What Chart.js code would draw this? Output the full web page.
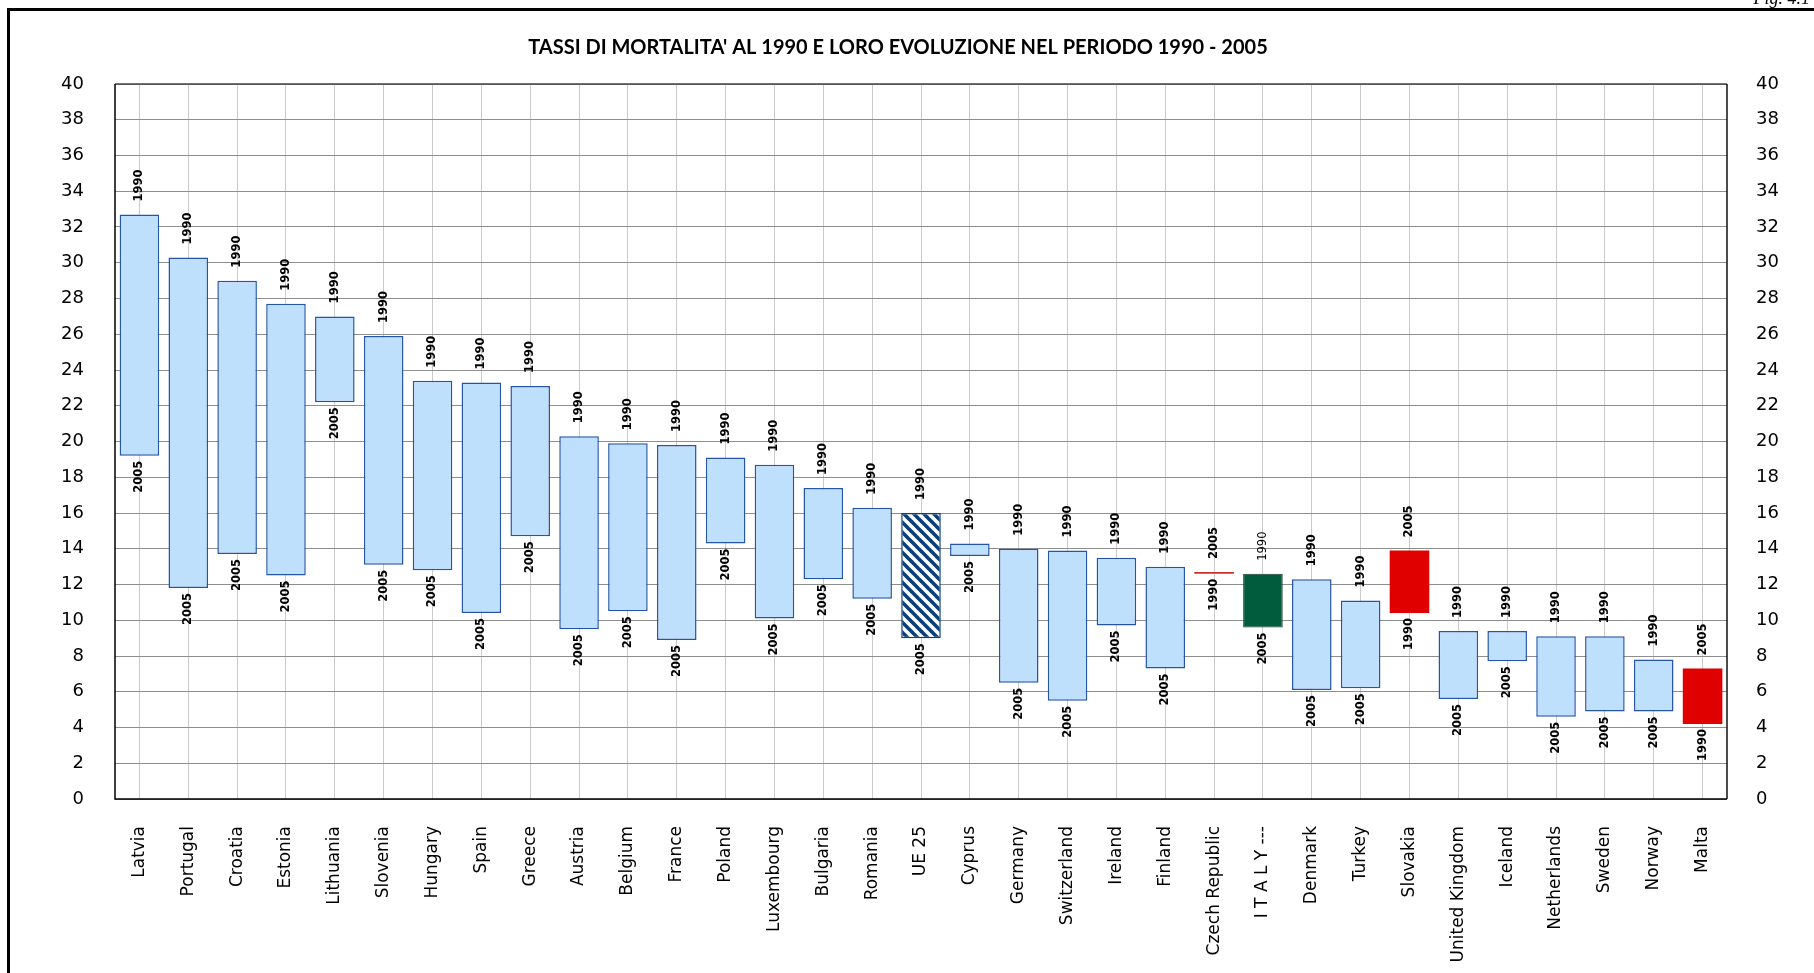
<!DOCTYPE html>
<html lang="it">
<head>
<meta charset="UTF-8">
<title>Tassi di mortalita' 1990 - 2005</title>
<script src="https://cdn.jsdelivr.net/npm/chart.js"></script>
<style>
    body { margin: 0; background: #fff; overflow: hidden; }
    #wrap { position: relative; width: 1814px; height: 973px; }
    #frame { position: absolute; left: 7px; top: 8px; width: 1900px; height: 1100px; border: 3px solid #000; pointer-events: none; }
    #fig { position: absolute; right: 4px; top: -12px; font: italic 18px "Liberation Serif", serif; color: #000; }
</style>
</head>
<body>
<div id="wrap">
    <canvas id="chart" width="1814" height="973"></canvas>
    <div id="frame"></div>
    <div id="fig">Fig. 4.1</div>
</div>
<script>
// dati
const categories = ['Latvia', 'Portugal', 'Croatia', 'Estonia', 'Lithuania', 'Slovenia', 'Hungary', 'Spain', 'Greece', 'Austria',
    'Belgium', 'France', 'Poland', 'Luxembourg', 'Bulgaria', 'Romania', 'UE 25', 'Cyprus', 'Germany', 'Switzerland',
    'Ireland', 'Finland', 'Czech Republic', 'I T A L Y ---', 'Denmark', 'Turkey', 'Slovakia', 'United Kingdom', 'Iceland',
    'Netherlands', 'Sweden', 'Norway', 'Malta'];
const rate1990 = [32.7, 30.3, 29.0, 27.7, 27.0, 25.9, 23.4, 23.3, 23.1, 20.3,
    19.9, 19.8, 19.1, 18.7, 17.4, 16.3, 16.0, 14.3, 14.0, 13.9,
    13.5, 13.0, 12.6, 12.6, 12.3, 11.1, 10.4, 9.4, 9.4,
    9.1, 9.1, 7.8, 4.2];
const rate2005 = [19.2, 11.8, 13.7, 12.5, 22.2, 13.1, 12.8, 10.4, 14.7, 9.5,
    10.5, 8.9, 14.3, 10.1, 12.3, 11.2, 9.0, 13.6, 6.5, 5.5,
    9.7, 7.3, 12.7, 9.6, 6.1, 6.2, 13.9, 5.6, 7.7,
    4.6, 4.9, 4.9, 7.3];
const yTicks = [0, 2, 4, 6, 8, 10, 12, 14, 16, 18, 20, 22, 24, 26, 28, 30, 32, 34, 36, 38, 40];
const titleText = "TASSI DI MORTALITA' AL 1990 E LORO EVOLUZIONE NEL PERIODO 1990 - 2005";

// tratteggio per UE 25
function hatch() {
    const c = document.createElement('canvas');
    c.width = 10; c.height = 10;
    const g = c.getContext('2d');
    g.fillStyle = '#fff';
    g.fillRect(0, 0, 10, 10);
    g.strokeStyle = '#0b3f7a';
    g.lineWidth = 3.6;
    for (let k = -1; k <= 1; k++) {
        g.beginPath();
        g.moveTo(k * 10 - 2, -2);
        g.lineTo(k * 10 + 12, 12);
        g.stroke();
    }
    return g.createPattern(c, 'repeat');
}

const ctx = document.getElementById('chart').getContext('2d');
const pattern = hatch();

const fills = [], borders = [], widths = [];
categories.forEach(function(name, i) {
    if (name === 'UE 25') {
        fills.push(pattern); borders.push('#0b3f7a'); widths.push(1.5);
    } else if (name.indexOf('I T A L Y') === 0) {
        fills.push('#005c3c'); borders.push('#1c3a2c'); widths.push(1);
    } else if (rate2005[i] > rate1990[i]) {
        fills.push(name === 'Czech Republic' ? '#c8322a' : '#e00000'); borders.push('rgba(0,0,0,0)'); widths.push(0);
    } else {
        fills.push('#bfe0fd'); borders.push('#2655a6'); widths.push(1.5);
    }
});

const yearLabels = {
    id: 'yearLabels',
    afterDatasetsDraw(chart) {
        const c = chart.ctx;
        const y = chart.scales.y;
        const meta = chart.getDatasetMeta(0);
        c.save();
        c.fillStyle = '#000';
        c.textBaseline = 'middle';
        meta.data.forEach(function(bar, i) {
            const up = rate2005[i] > rate1990[i];
            const hi = Math.max(rate1990[i], rate2005[i]);
            const lo = Math.min(rate1990[i], rate2005[i]);
            const topTxt = up ? '2005' : '1990';
            const botTxt = up ? '1990' : '2005';
            const italy = categories[i].indexOf('I T A L Y') === 0;
            // sopra
            c.save();
            c.translate(bar.x, y.getPixelForValue(hi) - 13);
            c.rotate(-Math.PI / 2);
            c.font = (italy && topTxt === '1990' ? '' : 'bold ') + '11.5px "DejaVu Sans"';
            c.textAlign = 'left';
            c.fillText(topTxt, 0, 0);
            c.restore();
            // sotto
            c.save();
            c.translate(bar.x, y.getPixelForValue(lo) + 5);
            c.rotate(-Math.PI / 2);
            c.font = 'bold 11.5px "DejaVu Sans"';
            c.textAlign = 'right';
            c.fillText(botTxt, 0, 0);
            c.restore();
        });
        c.restore();
    },
    afterDraw(chart) {
        const c = chart.ctx;
        const a = chart.chartArea;
        c.save();
        c.lineWidth = 1.5;
        c.strokeStyle = '#444';
        c.beginPath(); c.moveTo(a.left, a.top); c.lineTo(a.right, a.top); c.stroke();
        c.strokeStyle = '#111';
        c.beginPath(); c.moveTo(a.right, a.top); c.lineTo(a.right, a.bottom); c.stroke();
        c.strokeStyle = '#000';
        c.beginPath(); c.moveTo(a.left, a.top); c.lineTo(a.left, a.bottom); c.lineTo(a.right, a.bottom); c.stroke();
        // titolo
        c.fillStyle = '#000';
        c.font = 'bold 20px Lato';
        c.textAlign = 'center';
        c.textBaseline = 'middle';
        c.fillText(titleText, 898, 48);
        c.restore();
    }
};

const tickFont = { family: '"DejaVu Sans"', size: 18 };

new Chart(ctx, {
    type: 'bar',
    data: {
        labels: categories,
        datasets: [{
            label: 'Tassi di mortalita',
            data: categories.map(function(_, i) { return [rate2005[i], rate1990[i]]; }),
            backgroundColor: fills,
            borderColor: borders,
            borderWidth: widths,
            borderSkipped: false,
            barPercentage: 0.81,
            categoryPercentage: 1
        }]
    },
    options: {
        responsive: false,
        animation: false,
        devicePixelRatio: 1,
        layout: { padding: { top: 84, left: 0, right: 0, bottom: 0 } },
        plugins: {
            legend: { display: false },
            title: { display: false },
            tooltip: { enabled: false }
        },
        scales: {
            x: {
                offset: true,
                grid: { offset: false, color: '#cbcbcb', lineWidth: 1, drawTicks: false },
                border: { display: false },
                ticks: {
                    autoSkip: false, maxRotation: 90, minRotation: 90, padding: 27,
                    color: '#000', font: { family: '"DejaVu Sans"', size: 17 }
                },
                afterFit(scale) { scale.height = 174; }
            },
            y: {
                position: 'left',
                min: 0, max: 40,
                afterBuildTicks(scale) { scale.ticks = yTicks.map(function(v) { return { value: v }; }); },
                grid: { color: '#8e8e8e', lineWidth: 1, drawTicks: false },
                border: { display: false },
                ticks: { padding: 31, color: '#000', font: tickFont },
                afterFit(scale) { scale.width = 115; }
            },
            y2: {
                position: 'right',
                min: 0, max: 40,
                afterBuildTicks(scale) { scale.ticks = yTicks.map(function(v) { return { value: v }; }); },
                grid: { display: false, drawTicks: false },
                border: { display: false },
                ticks: { padding: 29, color: '#000', font: tickFont },
                afterFit(scale) { scale.width = 87; }
            }
        }
    },
    plugins: [yearLabels]
});
</script>
</body>
</html>
